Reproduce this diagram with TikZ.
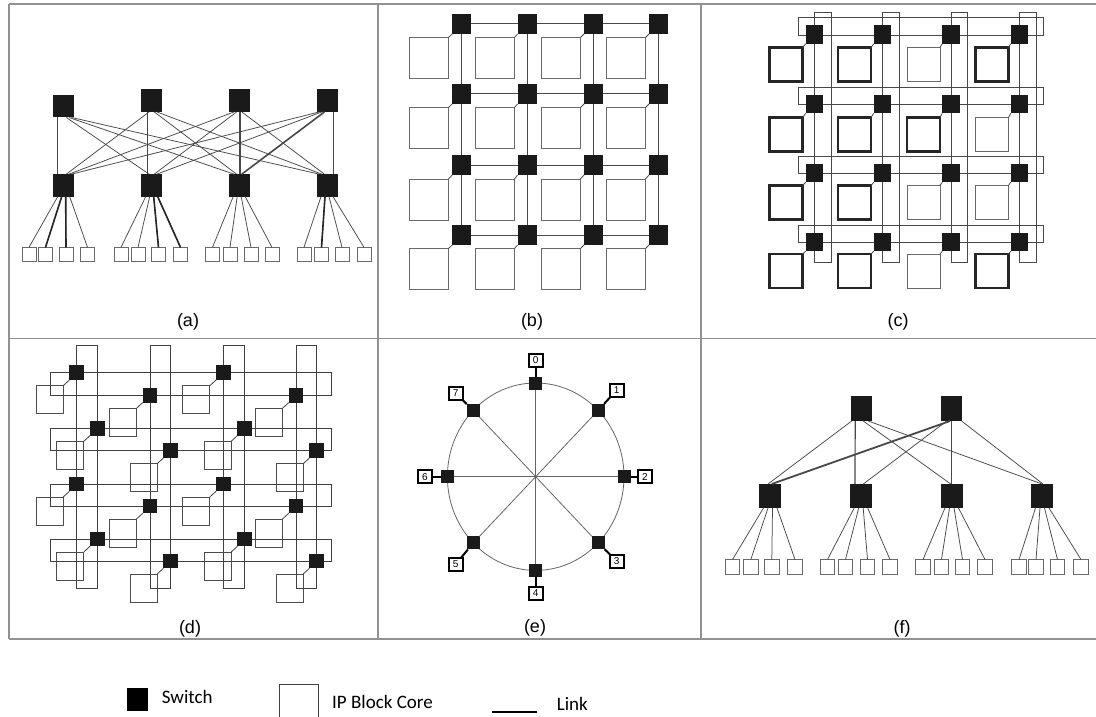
\documentclass[tikz,border=0pt]{standalone}
\usepackage{fontspec}
\setmainfont{Liberation Sans}
\newfontfamily\legendfont{Carlito}
\definecolor{swc}{RGB}{26,26,26}
\definecolor{lnc}{RGB}{72,72,72}
\definecolor{corec}{RGB}{105,105,105}
\definecolor{bdc}{RGB}{145,145,145}
\begin{document}
\begin{tikzpicture}[x=1pt,y=-1pt,
  sw/.style={rectangle,fill=swc,draw=none,inner sep=0pt,outer sep=0pt},
  core/.style={rectangle,draw=corec,fill=white,line width=0.9pt,inner sep=0pt,outer sep=0pt},
  corethick/.style={rectangle,draw=black!85,fill=white,line width=2.2pt,inner sep=0pt,outer sep=0pt,minimum width=33pt,minimum height=34pt},
  corethin/.style={rectangle,draw=corec,fill=white,line width=1pt,inner sep=0pt,outer sep=0pt,minimum width=33pt,minimum height=34pt},
  dcore/.style={rectangle,draw=black!70,line width=0.9pt,inner sep=0pt,outer sep=0pt,minimum width=27pt,minimum height=28pt},
  ecore/.style={rectangle,draw=black,fill=white,line width=2pt,inner sep=0pt,outer sep=0pt,minimum width=14pt,minimum height=13pt,font=\fontsize{10}{11}\selectfont},
  lnk/.style={draw=lnc,line width=0.8pt},
  dlnk/.style={draw=black!75,line width=0.9pt},
  frameline/.style={draw=bdc,line width=1.6pt},
  plabel/.style={font=\fontsize{18}{20}\selectfont,inner sep=0pt},
  lgtext/.style={anchor=base west,inner sep=0pt,font=\legendfont\fontsize{19}{22}\selectfont},
  ]
\useasboundingbox (0,0) rectangle (1096,717);
\fill[white] (0,0) rectangle (1096,717);

% ---------- panel frames ----------
\draw[frameline] (9,4) -- (1096,4);
\draw[frameline] (9,338.5) -- (1096,338.5);
\draw[frameline] (9,639) -- (1096,639);
\draw[frameline] (9,4) -- (9,639);
\draw[frameline] (378,4) -- (378,639);
\draw[frameline] (701,4) -- (701,639);

% ---------- (a) ----------
\foreach \n/\x/\y in {1/63.7/106.2,2/151.7/100.7,3/239.2/100.7,4/327/100.7}
  \node[sw,minimum width=21pt,minimum height=22.5pt] (aT\n) at (\x,\y) {};
\foreach \n/\x in {1/63.7,2/151.7,3/239.2,4/327}
  \node[sw,minimum width=21pt,minimum height=22.5pt] (aB\n) at (\x,185.4) {};
\foreach \i in {1,...,4}{
  \foreach \j in {1,...,4}{
    \pgfmathsetmacro\vo{{-6,-4,1,6}[\i-1]}
    \pgfmathsetmacro\so{ifthenelse(\i==\j,\vo,2.6*(\j-\i))}
    \pgfmathsetmacro\eo{ifthenelse(\i==\j,\vo,-2.6*(\j-\i))}
    \pgfmathsetmacro\lw{ifthenelse(and(\j==3,\i>=3),1.6,0.75)}
    \draw[lnk,line width=\lw pt] ([xshift=\so pt]aT\i.south) -- ([xshift=\eo pt]aB\j.north);
  }
}
\foreach \n/\x in {1/29,2/45.5,3/66,4/87.5,5/121,6/138,7/158.5,8/180.5,9/212.5,10/230,11/251,12/272,13/304,14/321.5,15/342,16/364}
  \node[core,minimum width=14pt,minimum height=14.5pt] (aC\n) at (\x,254.6) {};
\foreach \k in {1,...,4}{
  \foreach \m in {1,...,4}{
    \pgfmathtruncatemacro\cc{4*(\k-1)+\m}
    \pgfmathsetmacro\oo{{-6,-2,2,6}[\m-1]}
    \draw[lnk,line width=0.75pt] ([xshift=\oo pt]aB\k.south) -- (aC\cc.north);
  }
}
\foreach \k/\cc/\m in {1/2/2,1/3/3,2/7/3,2/8/4,4/14/2}{
  \pgfmathsetmacro\oo{{-6,-2,2,6}[\m-1]}
  \draw[draw=black!85,line width=1.6pt] ([xshift=\oo pt]aB\k.south) -- (aC\cc.north);
}
\node[plabel] (alab) at (188,322) {(a)};

% ---------- (b) ----------
\foreach \r/\y in {1/24,2/94,3/165,4/235}
  \foreach \c/\x in {1/461.7,2/527,3/593.5,4/658.5}
    \node[sw,minimum width=19pt,minimum height=20pt] (bS\r\c) at (\x,\y) {};
\foreach \r in {1,...,4}
  \draw[lnk,line width=1pt] (bS\r1) -- (bS\r2) -- (bS\r3) -- (bS\r4);
\foreach \c in {1,...,4}
  \draw[lnk,line width=1pt] (bS1\c) -- (bS2\c) -- (bS3\c) -- (bS4\c);
\foreach \r/\y in {1/58,2/128,3/199.5,4/269}
  \foreach \c/\x in {1/429,2/495,3/561,4/626}{
    \node[core,minimum width=39pt,minimum height=41pt] (bC\r\c) at (\x,\y) {};
    \draw[lnk] (bC\r\c.north east) -- (bS\r\c.south west);
  }
\node[plabel] (blab) at (532,322) {(b)};

% ---------- (c) ----------
\foreach \y in {34.5,104,173,242}
  \draw[lnk,line width=0.9pt] (798,\y-17) rectangle (1043,\y+0.5);
\foreach \x in {814.5,882.5,951,1019.5}
  \draw[lnk,line width=0.9pt] (\x,12) rectangle (\x+16.5,262);
\foreach \r/\y in {1/34.5,2/104,3/173,4/242}
  \foreach \c/\x in {1/814.5,2/882.5,3/951,4/1019.5}
    \node[sw,minimum width=17.5pt,minimum height=18.5pt] (cS\r\c) at (\x,\y) {};
\foreach \r/\c/\s in {1/1/corethick,1/2/corethick,1/3/corethin,1/4/corethick,
                      2/1/corethick,2/2/corethick,2/3/corethick,2/4/corethin,
                      3/1/corethick,3/2/corethick,3/3/corethin,3/4/corethin,
                      4/1/corethick,4/2/corethick,4/3/corethin,4/4/corethick}{
  \pgfmathsetmacro\cx{{786,854.5,923.5,992}[\c-1]}
  \pgfmathsetmacro\cy{{64.5,134.5,202.5,271}[\r-1]}
  \node[\s] (cC\r\c) at (\cx,\cy) {};
  \draw[lnk] (cC\r\c.north east) -- (cS\r\c.south west);
}
\node[plabel] (clab) at (898,322) {(c)};

% ---------- (d) ----------
\foreach \t/\b in {372.7/395.3,428.3/450.7,484/506,539/561}
  \draw[dlnk] (50.7,\t) rectangle (331.7,\b);
\foreach \l/\rr in {76.7/97.3,150/170.7,223.3/244.7,296/316.7}
  \draw[dlnk] (\l,345.7) rectangle (\rr,588.3);
\foreach \n/\x/\y in {1/76.7/372.7,2/223.3/372.7,3/150/395.3,4/296/395.3,
                      5/97.3/428.3,6/244.7/428.3,7/170.7/450.7,8/316.7/450.7,
                      9/76.7/484,10/223.3/484,11/150/506,12/296/506,
                      13/97.3/539,14/244.7/539,15/170.7/561,16/316.7/561}{
  \node[dcore] (dC\n) at (\x-27,\y+27) {};
  \node[sw,minimum width=14.5pt,minimum height=14.5pt] (dS\n) at (\x,\y) {};
  \draw[dlnk,line width=0.8pt] (dC\n.north east) -- (dS\n.south west);
}
\node[plabel] (dlab) at (190,629) {(d)};

% ---------- (e) ----------
\draw[draw=black!60,line width=0.8pt] (535.7,476.7) ellipse [x radius=88.3,y radius=93.7];
\foreach \k in {0,...,7}
  \node[sw,minimum width=13pt,minimum height=13pt] (eS\k) at ({535.7+88.3*sin(45*\k)},{476.7-93.7*cos(45*\k)}) {};
\foreach \k in {0,...,3}{
  \pgfmathtruncatemacro\o{\k+4}
  \draw[draw=black!60,line width=0.8pt] (eS\k) -- (eS\o);
}
\foreach \k/\x/\y in {0/535.7/360,1/616.7/390,2/645/476.7,3/616.7/561,4/535.7/593.3,5/455.7/564.3,6/425/476.7,7/455.7/393.3}{
  \node[ecore] (eC\k) at (\x,\y) {\k};
  \draw[black,line width=2pt] (eC\k) -- (eS\k);
}
\node[plabel] (elab) at (535,628) {(e)};

% ---------- (f) ----------
\node[sw,minimum width=21pt,minimum height=25pt] (fT1) at (861.2,408.5) {};
\node[sw,minimum width=21pt,minimum height=25pt] (fT2) at (951.5,408.5) {};
\foreach \n/\x in {1/770,2/860.7,3/951.5,4/1042}
  \node[sw,minimum width=22pt,minimum height=24pt] (fM\n) at (\x,496) {};
\foreach \t/\s/\m/\e/\w in {1/-9.5/1/-2/0.75,1/-6/2/-5.7/1.2,1/2/3/-0.8/0.75,1/7/4/0/0.75,
                            2/-1.5/1/1.7/1.8,2/-4.8/2/2.6/0.75,2/0/3/0/1.6,2/10/4/1/0.75}
  \draw[lnk,line width=\w pt] ([xshift=\s pt]fT\t.south) -- ([xshift=\e pt]fM\m.north);
\foreach \n/\x in {1/732.5,2/750.8,3/771.8,4/795,5/827.5,6/845.5,7/867.5,8/890,9/923,10/941.5,11/962.5,12/985,13/1019,14/1036,15/1057.5,16/1081}
  \node[core,minimum width=14.5pt,minimum height=14.5pt] (fC\n) at (\x,566.8) {};
\foreach \k in {1,...,4}{
  \foreach \m in {1,...,4}{
    \pgfmathtruncatemacro\cc{4*(\k-1)+\m}
    \pgfmathsetmacro\oo{{-6.5,-2,2.5,7}[\m-1]}
    \draw[lnk,line width=0.75pt] ([xshift=\oo pt]fM\k.south) -- (fC\cc.north);
  }
}
\node[plabel] (flab) at (902,629) {(f)};

% ---------- legend ----------
\node[rectangle,fill=black,inner sep=0pt,minimum width=21pt,minimum height=23pt] (lgS) at (137.8,699.2) {};
\node[lgtext] (lgSt) at (161.7,703.3) {Switch};
\node[rectangle,draw=black!75,line width=1pt,fill=white,inner sep=0pt,minimum width=39pt,minimum height=40pt] (lgC) at (298.8,704.3) {};
\node[lgtext] (lgCt) at (332,708.3) {IP Block Core};
\coordinate (lgL1) at (492.3,712.3);
\coordinate (lgL2) at (537.3,712.3);
\draw[black,line width=2.2pt] (lgL1) -- (lgL2);
\node[lgtext] (lgLt) at (556.7,710) {Link};
\end{tikzpicture}
\end{document}
